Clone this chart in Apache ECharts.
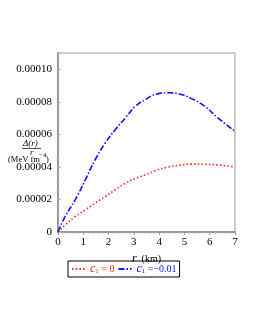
<!DOCTYPE html>
<html><head><meta charset="utf-8">
<script src="https://cdn.jsdelivr.net/npm/echarts@6/dist/echarts.min.js"></script>
<style>html,body{margin:0;padding:0;background:#fff}#c{width:255px;height:330px}</style>
</head><body><div id="c"></div>
<script>
const xTicks = [0,1,2,3,4,5,6,7];
const yTicks = [0,0.00002,0.00004,0.00006,0.00008,0.00010];
const rVals = [0,0.28,0.68,1.08,1.47,1.87,2.27,2.67,3.07,3.47,3.86,4.33,4.8,5.26,5.79,6.32,7.0];
const deltaC0 = [0,0.0000043,0.0000095,0.0000136,0.0000178,0.0000218,0.0000260,0.0000300,0.0000330,0.0000352,0.0000378,0.0000398,0.0000410,0.0000417,0.0000416,0.0000412,0.0000399];
const deltaC1 = [0,0.0000094,0.0000198,0.0000320,0.0000444,0.0000547,0.0000630,0.0000702,0.0000774,0.0000815,0.0000846,0.0000856,0.0000848,0.0000821,0.0000774,0.0000702,0.0000619];
const serName0 = '{i|c}{s|1}{r| = 0}';
const serName1 = '{i|c}{s|1}{r| =−0.01}';
const RED = '#ff2020', BLUE = '#1010ff';

const chart = echarts.init(document.getElementById('c'), null, {renderer:'canvas'});
const F = 'Liberation Serif';
function rich(col){return {i:{fontFamily:F,fontStyle:'italic',fontSize:12,color:col},s:{fontFamily:F,fontSize:7,color:col,verticalAlign:'bottom',padding:[5,0,0,0]},r:{fontFamily:F,fontSize:10,color:col}};}
chart.setOption({
  animation:false,
  grid:{left:58,top:53,right:20,bottom:98,show:true,borderColor:'#999',borderWidth:1},
  xAxis:{type:'value',min:0,max:7,interval:1,
    name:'{i|r}  (km)',nameLocation:'middle',nameGap:14,
    nameTextStyle:{fontFamily:F,fontSize:10,color:'#000',rich:{i:{fontFamily:F,fontStyle:'italic',fontSize:12,color:'#000'}}},
    axisLine:{lineStyle:{color:'#999',width:2}},
    axisTick:{show:true,inside:false,length:3,lineStyle:{color:'#999'}},
    minorTick:{show:true,splitNumber:5,length:2,lineStyle:{color:'#bbb'}},
    axisLabel:{fontFamily:F,fontSize:11,color:'#000',margin:5,formatter:v=>xTicks.includes(v)?String(v):''},
    splitLine:{show:false}},
  yAxis:{type:'value',min:0,max:0.00011,interval:0.00002,
    axisLine:{show:true,lineStyle:{color:'#999',width:2}},
    axisTick:{show:true,inside:true,length:3,lineStyle:{color:'#bbb'}},
    minorTick:{show:true,splitNumber:4,length:2,lineStyle:{color:'#ccc'}},
    axisLabel:{fontFamily:F,fontSize:11,color:'#000',margin:6,showMaxLabel:false,
      formatter:v=>{const t=yTicks.find(k=>Math.abs(k-v)<1e-9); return t===undefined?'':(t===0?'0':t.toFixed(5));}},
    splitLine:{show:false}},
  legend:{left:68,top:261,itemGap:3,itemWidth:13,itemHeight:6,padding:[2,3,2,3],
    borderColor:'#000',borderWidth:1,
    itemStyle:{opacity:0},
    data:[{name:serName0,textStyle:{color:RED,rich:rich(RED)}},{name:serName1,textStyle:{color:BLUE,rich:rich(BLUE)}}],
    textStyle:{fontFamily:F,fontSize:10}},
  graphic:[
    {type:'text',left:23,top:139,style:{text:'Δ(r)',font:'italic 9px "Liberation Serif"',fill:'#000'}},
    {type:'line',shape:{x1:22,y1:148.5,x2:41,y2:148.5},style:{stroke:'#000',lineWidth:0.7}},
    {type:'text',left:30,top:148,style:{text:'r',font:'italic 9px "Liberation Serif"',fill:'#000'}},
    {type:'text',left:8,top:155,style:{text:'(MeV fm',font:'8.5px "Liberation Serif"',fill:'#000'}},
    {type:'text',left:39,top:152,style:{text:'−4',font:'7px "Liberation Serif"',fill:'#000'}},
    {type:'text',left:46,top:155,style:{text:')',font:'8.5px "Liberation Serif"',fill:'#000'}}
  ],
  series:[
    {name:serName0,type:'line',smooth:true,showSymbol:false,symbol:'none',
      data:rVals.map((r,i)=>[r,deltaC0[i]]),
      lineStyle:{color:RED,width:1.6,type:[1.5,2.2]},itemStyle:{color:RED}},
    {name:serName1,type:'line',smooth:true,showSymbol:false,symbol:'none',
      data:rVals.map((r,i)=>[r,deltaC1[i]]),
      lineStyle:{color:BLUE,width:1.6,type:[6,2,1.5,2]},itemStyle:{color:BLUE}}
  ]
});
</script></body></html>
